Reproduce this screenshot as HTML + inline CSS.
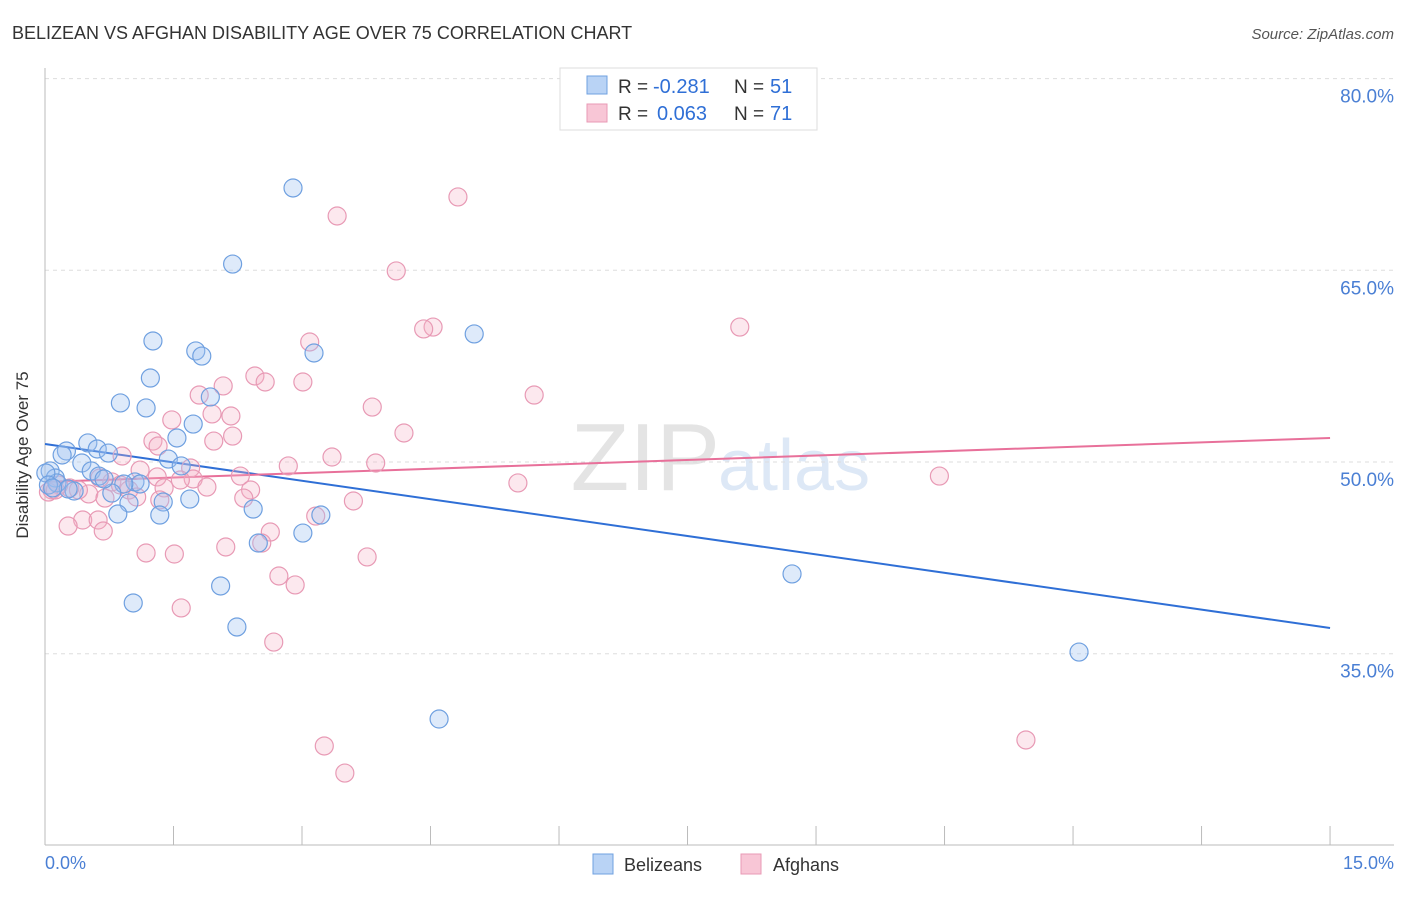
<!DOCTYPE html>
<html><head><meta charset="utf-8"><style>
body{margin:0;background:#fff;font-family:"Liberation Sans",sans-serif;}
svg text{font-family:"Liberation Sans",sans-serif;}
</style></head><body>
<svg id="chart" width="1406" height="892">
<text x="12" y="39" font-size="18" fill="#333">BELIZEAN VS AFGHAN DISABILITY AGE OVER 75 CORRELATION CHART</text>
<text x="1394" y="39" font-size="15" fill="#555" font-style="italic" text-anchor="end">Source: ZipAtlas.com</text>
<text x="720" y="490" font-size="96" fill="#e4e4e4" text-anchor="end" font-family="Liberation Serif">ZIP</text>
<text x="718" y="490" font-size="72" fill="#dde8f6">atlas</text>
<g id="grid"></g><g id="axes"></g><g id="lines"></g><g id="pts"></g>
<text x="28" y="455" font-size="17" fill="#333" text-anchor="middle" transform="rotate(-90 28 455)">Disability Age Over 75</text>
<text x="45" y="869" font-size="18" fill="#4a7fd4">0.0%</text>
<text x="1394" y="869" font-size="18" fill="#4a7fd4" text-anchor="end">15.0%</text>
<g>
<rect x="560" y="68" width="257" height="62" fill="#fff" stroke="#ddd"/>
<rect x="587" y="76" width="20" height="18" fill="#b9d3f5" stroke="#6fa0e0"/>
<rect x="587" y="104" width="20" height="18" fill="#f8c6d6" stroke="#e89ab5"/>
<text x="618" y="93" font-size="19" fill="#333">R =</text>
<text x="653" y="93" font-size="20" fill="#2f6fd6">-0.281</text>
<text x="734" y="93" font-size="19" fill="#333">N =</text>
<text x="770" y="93" font-size="20" fill="#2f6fd6">51</text>
<text x="618" y="120" font-size="19" fill="#333">R =</text>
<text x="657" y="120" font-size="20" fill="#2f6fd6">0.063</text>
<text x="734" y="120" font-size="19" fill="#333">N =</text>
<text x="770" y="120" font-size="20" fill="#2f6fd6">71</text>
</g>
<g>
<rect x="593" y="854" width="20" height="20" fill="#b9d3f5" stroke="#6fa0e0"/>
<text x="624" y="871" font-size="18" fill="#333">Belizeans</text>
<rect x="741" y="854" width="20" height="20" fill="#f8c6d6" stroke="#e89ab5"/>
<text x="773" y="871" font-size="18" fill="#333">Afghans</text>
</g>
</svg>
<script>
const yTicks=[35,50,65,80];
const blueX=[2.895,2.19,5.01,1.26,1.76,1.83,3.14,1.23,0.88,1.18,1.93,1.73,1.54,0.50,0.61,0.25,0.20,0.74,1.44,0.43,1.59,0.54,0.63,0.06,0.12,1.05,1.11,0.92,0.78,0.34,1.38,1.69,0.98,0.85,1.34,2.43,3.22,3.01,2.49,2.05,1.03,2.24,4.60,8.72,12.07,0.14,0.27,0.01,0.04,0.09,0.69];
const blueY=[71.44,65.49,60.02,59.47,58.69,58.29,58.53,56.57,54.62,54.23,55.09,52.97,51.88,51.49,51.02,50.86,50.55,50.70,50.23,49.92,49.69,49.30,48.90,49.30,48.75,48.44,48.28,48.28,47.57,47.73,46.87,47.10,46.79,45.93,45.85,46.32,45.85,44.44,43.66,40.30,38.97,37.09,29.89,41.24,35.13,48.36,47.89,49.14,48.20,47.97,48.67];
const pinkX=[4.82,3.41,4.10,4.53,4.42,8.11,3.09,2.45,2.57,3.01,2.08,1.80,3.82,5.71,1.95,2.17,1.48,2.19,4.19,1.97,1.26,1.32,0.90,3.35,3.86,2.84,2.28,1.70,1.31,1.73,10.44,5.52,1.89,1.39,0.98,0.78,0.51,0.29,0.16,0.08,0.04,1.07,2.40,2.32,1.34,3.60,0.70,0.44,0.62,0.27,0.68,3.16,2.63,2.53,2.11,1.18,1.51,3.76,2.73,2.92,1.59,2.67,3.26,3.50,11.45,0.12,0.39,0.88,1.58,0.64,1.11];
const pinkY=[70.74,69.25,64.95,60.56,60.41,60.56,59.39,56.73,56.26,56.26,55.95,55.24,54.30,55.24,53.76,53.60,53.29,52.03,52.27,51.64,51.64,51.25,50.47,50.39,49.92,49.69,48.90,49.53,48.83,48.67,48.90,48.36,48.04,47.97,47.81,48.44,47.50,47.97,48.20,47.81,47.65,47.26,47.81,47.18,47.03,46.95,47.18,45.46,45.46,44.99,44.60,45.77,44.52,43.66,43.35,42.88,42.80,42.57,41.08,40.38,38.58,35.91,27.78,25.66,28.25,47.81,47.81,48.20,48.59,48.75,49.37];
const blueTrend=[51.41,37.01];
const pinkTrend=[48.44,51.88];
const NS="http://www.w3.org/2000/svg";
const X=v=>45+v*85.67, Y=v=>462-(v-50)*12.78;
function mk(t,a,p){const e=document.createElementNS(NS,t);for(const k in a)e.setAttribute(k,a[k]);p.appendChild(e);return e;}
const grid=document.getElementById('grid'),axes=document.getElementById('axes');
yTicks.forEach(t=>{
 const l=mk('line',{x1:45,x2:1394,y1:Y(t),y2:Y(t),stroke:'#ddd','stroke-dasharray':'4,4'},grid);
 
 
 const tx=mk('text',{x:1394,y:Y(t)+24,'font-size':19,fill:'#4a7fd4','text-anchor':'end'},grid);
 tx.textContent=t.toFixed(1)+'%';
 
 
});
const ax=mk('line',{x1:45,x2:45,y1:68,y2:845,stroke:'#bbb'},axes);


const bx=mk('line',{x1:45,x2:1394,y1:845,y2:845,stroke:'#bbb'},axes);


for(let i=0;i<=15;i+=1.5){
 const t=mk('line',{x1:X(i),x2:X(i),y1:826,y2:845,stroke:'#bbb'},axes);
 
 
}
const lines=document.getElementById('lines'),pts=document.getElementById('pts');
function dots(xs,ys,fill,stroke,name){xs.forEach((x,i)=>{
 const c=mk('circle',{cx:X(x),cy:Y(ys[i]),r:9,fill:fill,stroke:stroke,'stroke-width':1.2},pts);
 
 
});}
dots(pinkX,pinkY,'rgba(245,180,200,0.3)','#e89ab5','afghan-point');
dots(blueX,blueY,'rgba(160,195,240,0.35)','#6fa0e0','belizean-point');
const bl=mk('line',{x1:X(0),x2:X(15),y1:Y(blueTrend[0]),y2:Y(blueTrend[1]),stroke:'#2f6fd6','stroke-width':2},lines);


const pl=mk('line',{x1:X(0),x2:X(15),y1:Y(pinkTrend[0]),y2:Y(pinkTrend[1]),stroke:'#e8709a','stroke-width':2},lines);


</script>
</body></html>
